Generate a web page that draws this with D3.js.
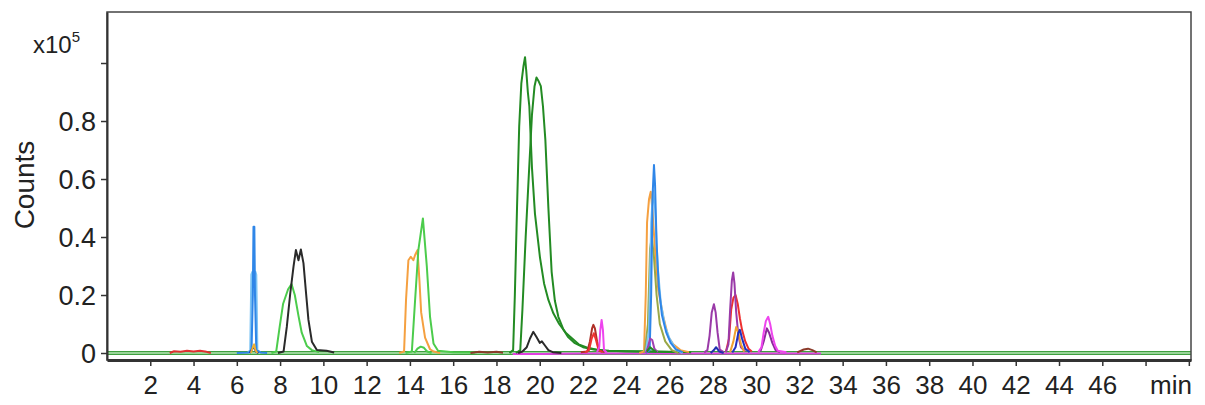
<!DOCTYPE html>
<html>
<head>
<meta charset="utf-8">
<script src="https://cdn.jsdelivr.net/npm/d3@7"></script>
<style>
  html, body { margin: 0; padding: 0; background: #fff; }
  svg { display: block; font-family: "Liberation Sans", Arial, sans-serif; }
</style>
</head>
<body>
<svg id="chart" width="1205" height="405"></svg>
<script>
// ---- Data (time in min, counts in units of 1e5) ----
const xTicks = [2,4,6,8,10,12,14,16,18,20,22,24,26,28,30,32,34,36,38,40,42,44,46,48,50];
const xTickLabels = ["2","4","6","8","10","12","14","16","18","20","22","24","26","28","30","32","34","36","38","40","42","44","46","",""];
const yTicks = [0, 0.2, 0.4, 0.6, 0.8, 1.0];
const yTickLabels = ["0", "0.2", "0.4", "0.6", "0.8", ""];

const baselineGreen = [[0,0],[50.1,0]];
const redEarly = [[2.9,0],[3.1,0.006],[3.4,0.004],[3.7,0.008],[4.0,0.005],[4.3,0.008],[4.6,0.004],[4.8,0]];
const lightBlue7 = [[6.5,0],[6.62,0.01],[6.67,0.27],[6.72,0.28],[6.86,0.28],[6.9,0.27],[6.95,0.01],[7.1,0]];
const blue7 = [[6.0,0],[6.55,0.002],[6.68,0.01],[6.74,0.2],[6.77,0.435],[6.81,0.435],[6.84,0.2],[6.9,0.01],[7.1,0.002],[7.4,0]];
const navy7 = [[6.6,0],[6.72,0.015],[6.8,0.02],[6.88,0.005],[7.0,0]];
const orange7 = [[6.65,0],[6.74,0.02],[6.8,0.03],[6.86,0.01],[6.95,0]];
const lime8 = [[7.6,0],[7.82,0.005],[7.98,0.09],[8.14,0.17],[8.37,0.22],[8.53,0.238],[8.68,0.2],[8.85,0.128],[9.0,0.07],[9.24,0.024],[9.47,0.01],[9.8,0.003]];
const black9 = [[7.9,0],[8.16,0.005],[8.31,0.09],[8.47,0.206],[8.62,0.298],[8.73,0.355],[8.85,0.32],[8.96,0.357],[9.08,0.31],[9.2,0.206],[9.31,0.114],[9.47,0.039],[9.7,0.01],[10.15,0.008],[10.5,0.002]];
const orange14 = [[13.5,0],[13.73,0.005],[13.82,0.183],[13.93,0.32],[14.04,0.332],[14.16,0.32],[14.24,0.338],[14.35,0.355],[14.44,0.25],[14.52,0.14],[14.7,0.053],[14.93,0.013],[15.1,0.005],[15.4,0]];
const lime14 = [[13.8,0],[14.09,0.005],[14.24,0.183],[14.39,0.355],[14.6,0.464],[14.78,0.3],[14.93,0.125],[15.09,0.033],[15.3,0.008],[16.0,0.003],[17.0,0.002]];
const limeSmall14 = [[14.2,0],[14.35,0.015],[14.5,0.022],[14.65,0.018],[14.8,0.005],[15.0,0]];
const brown17 = [[16.8,0],[17.2,0.004],[17.6,0.002],[18.0,0.004],[18.3,0.001]];
const darkGreen19 = [[18.6,0],[18.77,0.01],[18.85,0.2],[18.95,0.5],[19.05,0.78],[19.15,0.93],[19.25,0.99],[19.32,1.02],[19.38,0.97],[19.45,0.9],[19.52,0.85],[19.64,0.64],[19.78,0.48],[20.01,0.33],[20.2,0.24],[20.4,0.183],[20.63,0.137],[20.9,0.1],[21.2,0.07],[21.5,0.05],[21.8,0.03],[22.2,0.018],[22.6,0.012],[23.0,0.008],[24.0,0.006],[25.0,0.005],[26.0,0.004],[27.0,0.003]];
const darkGreen20 = [[18.9,0],[19.1,0.01],[19.2,0.15],[19.35,0.4],[19.5,0.62],[19.64,0.82],[19.76,0.92],[19.85,0.95],[19.93,0.94],[20.05,0.92],[20.15,0.85],[20.26,0.735],[20.4,0.5],[20.55,0.28],[20.7,0.18],[20.86,0.125],[21.1,0.08],[21.3,0.056],[21.6,0.035],[22.0,0.02],[22.5,0.012],[23.2,0.008],[24.0,0.006],[25.5,0.004],[26.5,0.003]];
const black20 = [[19.0,0],[19.2,0.005],[19.4,0.02],[19.55,0.05],[19.7,0.073],[19.85,0.055],[20.0,0.035],[20.1,0.04],[20.25,0.025],[20.4,0.01],[20.6,0.003],[21.0,0]];
const magentaBase = [[18.75,-0.003],[20.0,-0.003],[22.0,-0.002],[24.0,-0.002],[26.0,-0.002],[28.0,-0.002],[30.0,-0.002],[32.0,-0.002],[33.0,-0.002]];
const darkRed22 = [[21.9,0.003],[22.2,0.005],[22.32,0.04],[22.42,0.085],[22.48,0.097],[22.55,0.085],[22.65,0.04],[22.75,0.008],[23.0,0.003]];
const red22 = [[22.1,0.002],[22.28,0.01],[22.4,0.05],[22.5,0.068],[22.6,0.045],[22.72,0.01],[22.9,0.003]];
const magenta23 = [[22.65,0.003],[22.75,0.02],[22.8,0.08],[22.86,0.114],[22.92,0.08],[22.97,0.01],[23.1,0.002]];
const orange25 = [[24.6,0],[24.82,0.005],[24.9,0.2],[24.96,0.45],[25.05,0.53],[25.13,0.556],[25.2,0.5],[25.33,0.355],[25.48,0.217],[25.71,0.125],[25.94,0.056],[26.17,0.03],[26.5,0.01],[26.9,0.003]];
const olive25 = [[24.85,0],[25.0,0.1],[25.1,0.36],[25.18,0.4],[25.28,0.33],[25.4,0.2],[25.55,0.1],[25.8,0.04],[26.1,0.01],[26.4,0]];
const lightBlue25 = [[24.9,0],[25.05,0.08],[25.15,0.45],[25.24,0.56],[25.33,0.5],[25.45,0.3],[25.6,0.17],[25.8,0.09],[26.0,0.05],[26.3,0.012],[26.6,0]];
const blue25 = [[24.9,0],[25.08,0.01],[25.15,0.2],[25.22,0.55],[25.28,0.648],[25.33,0.58],[25.4,0.38],[25.5,0.23],[25.65,0.13],[25.85,0.07],[26.05,0.035],[26.3,0.012],[26.6,0.003]];
const purple25 = [[24.9,0],[25.0,0.02],[25.1,0.05],[25.2,0.045],[25.3,0.015],[25.45,0.003]];
const darkGreen25 = [[24.95,0.005],[25.1,0.02],[25.25,0.01],[25.4,0.003]];
const purple28 = [[27.6,0.002],[27.75,0.01],[27.85,0.06],[27.95,0.14],[28.05,0.168],[28.13,0.14],[28.22,0.07],[28.32,0.012],[28.5,0.003]];
const navy28 = [[27.9,0],[28.05,0.01],[28.15,0.02],[28.3,0.005],[28.5,0]];
const red29 = [[28.6,0.003],[28.75,0.05],[28.85,0.15],[28.95,0.19],[29.05,0.2],[29.15,0.17],[29.25,0.12],[29.35,0.08],[29.5,0.04],[29.65,0.015],[29.8,0.005]];
const purple29 = [[28.6,0.003],[28.72,0.03],[28.8,0.15],[28.88,0.25],[28.94,0.278],[29.0,0.24],[29.08,0.14],[29.18,0.06],[29.3,0.02],[29.5,0.005]];
const orange29 = [[28.8,0.003],[28.95,0.04],[29.08,0.09],[29.18,0.07],[29.3,0.03],[29.45,0.005]];
const navy29 = [[28.9,0.002],[29.05,0.02],[29.18,0.07],[29.25,0.08],[29.35,0.05],[29.5,0.015],[29.7,0.003]];
const purple30 = [[30.2,0.005],[30.35,0.04],[30.5,0.085],[30.6,0.07],[30.75,0.035],[30.9,0.01],[31.1,0.003]];
const magenta30 = [[30.1,0.003],[30.25,0.02],[30.35,0.07],[30.45,0.11],[30.56,0.125],[30.65,0.1],[30.75,0.06],[30.88,0.025],[31.0,0.008],[31.4,0.003]];
const brown32 = [[31.9,0.002],[32.2,0.012],[32.4,0.015],[32.6,0.01],[32.8,0.002]];

const traces = [
  {data: magentaBase, color: "#e040e0"},
  {data: redEarly, color: "#e03030"},
  {data: lightBlue7, color: "#7cc4f4"},
  {data: blue7, color: "#2f86e8"},
  {data: navy7, color: "#2030a0"},
  {data: orange7, color: "#f0b030"},
  {data: lime8, color: "#4ccc4c"},
  {data: black9, color: "#2a2a2a"},
  {data: orange14, color: "#f5a040"},
  {data: lime14, color: "#4ccc4c"},
  {data: limeSmall14, color: "#4ccc4c"},
  {data: brown17, color: "#8b3a2a"},
  {data: darkGreen19, color: "#238b23"},
  {data: darkGreen20, color: "#238b23"},
  {data: black20, color: "#2a2a2a"},
  {data: darkRed22, color: "#b03028"},
  {data: red22, color: "#ee3333"},
  {data: magenta23, color: "#ee44ee"},
  {data: orange25, color: "#f5a040"},
  {data: olive25, color: "#9aa848"},
  {data: lightBlue25, color: "#7cc4f4"},
  {data: blue25, color: "#2f86e8"},
  {data: purple25, color: "#a040b0"},
  {data: darkGreen25, color: "#238b23"},
  {data: purple28, color: "#9a3aa8"},
  {data: navy28, color: "#2030b0"},
  {data: red29, color: "#ee3030"},
  {data: purple29, color: "#9a3aa8"},
  {data: orange29, color: "#f0a030"},
  {data: navy29, color: "#2030c0"},
  {data: purple30, color: "#8a2a9a"},
  {data: magenta30, color: "#ee44ee"},
  {data: brown32, color: "#8b3a2a"}
];

// ---- Layout ----
const W = 1205, H = 405;
const L = 107, R = 1191, T = 12, B = 360;

const svg = d3.select("#chart");
svg.append("rect").attr("width", W).attr("height", H).attr("fill", "#fff");

const x = d3.scaleLinear().domain([0, 50.1]).range([L, R]);
const y = d3.scaleLinear().domain([-0.0241, 1.1759]).range([B, T]);

svg.append("defs").append("clipPath").attr("id", "plotclip")
  .append("rect").attr("x", L).attr("y", T).attr("width", R - L).attr("height", B - T);

const plot = svg.append("g").attr("clip-path", "url(#plotclip)");

const line = d3.line().x(d => x(d[0])).y(d => y(d[1]));

// baseline (green band)
plot.append("path").datum(baselineGreen).attr("d", line)
  .attr("fill", "none").attr("stroke", "#3f9f3f").attr("stroke-width", 4);
plot.append("path").datum(baselineGreen).attr("d", line)
  .attr("fill", "none").attr("stroke", "#b8e6b8").attr("stroke-width", 1.6);

traces.forEach(t => {
  plot.append("path").datum(t.data).attr("d", line)
    .attr("fill", "none").attr("stroke", t.color)
    .attr("stroke-width", 2).attr("stroke-linejoin", "round");
});

// frame
svg.append("rect").attr("x", L).attr("y", T).attr("width", R - L).attr("height", B - T)
  .attr("fill", "none").attr("stroke", "#444").attr("stroke-width", 1.5);

const FONT = "Liberation Sans, Arial, sans-serif";

// x axis
const xAxis = d3.axisBottom(x).tickValues(xTicks).tickSize(6).tickSizeOuter(0)
  .tickFormat((d, i) => xTickLabels[i]);
const gx = svg.append("g").attr("transform", `translate(0,${B})`).call(xAxis);
gx.select(".domain").attr("stroke", "#333").attr("stroke-width", 3);
gx.selectAll(".tick line").attr("stroke", "#333").attr("stroke-width", 1.5);
gx.selectAll(".tick text").attr("y", 34).attr("dy", 0)
  .attr("font-size", 26).attr("fill", "#222").attr("font-family", FONT);

svg.append("text").attr("x", 1192).attr("y", 394).attr("text-anchor", "end")
  .attr("font-size", 26).attr("fill", "#222").attr("font-family", FONT).text("min");

// y axis
const yAxis = d3.axisLeft(y).tickValues(yTicks).tickSize(6).tickSizeOuter(0)
  .tickFormat((d, i) => yTickLabels[i]);
const gy = svg.append("g").attr("transform", `translate(${L},0)`).call(yAxis);
gy.select(".domain").attr("stroke", "#333").attr("stroke-width", 2);
gy.selectAll(".tick line").attr("stroke", "#333").attr("stroke-width", 1.5);
gy.selectAll(".tick text").attr("x", -11).attr("dy", "0.35em")
  .attr("font-size", 27).attr("fill", "#222").attr("font-family", FONT);

// y title
svg.append("text").attr("transform", "translate(34,185) rotate(-90)")
  .attr("text-anchor", "middle").attr("font-size", 28).attr("fill", "#222").attr("font-family", FONT).text("Counts");

// multiplier
const mult = svg.append("text").attr("x", 33).attr("y", 53).attr("font-size", 24).attr("fill", "#222").attr("font-family", FONT);
mult.append("tspan").text("x10");
mult.append("tspan").attr("dy", -11).attr("font-size", 15).text("5");
</script>
</body>
</html>
